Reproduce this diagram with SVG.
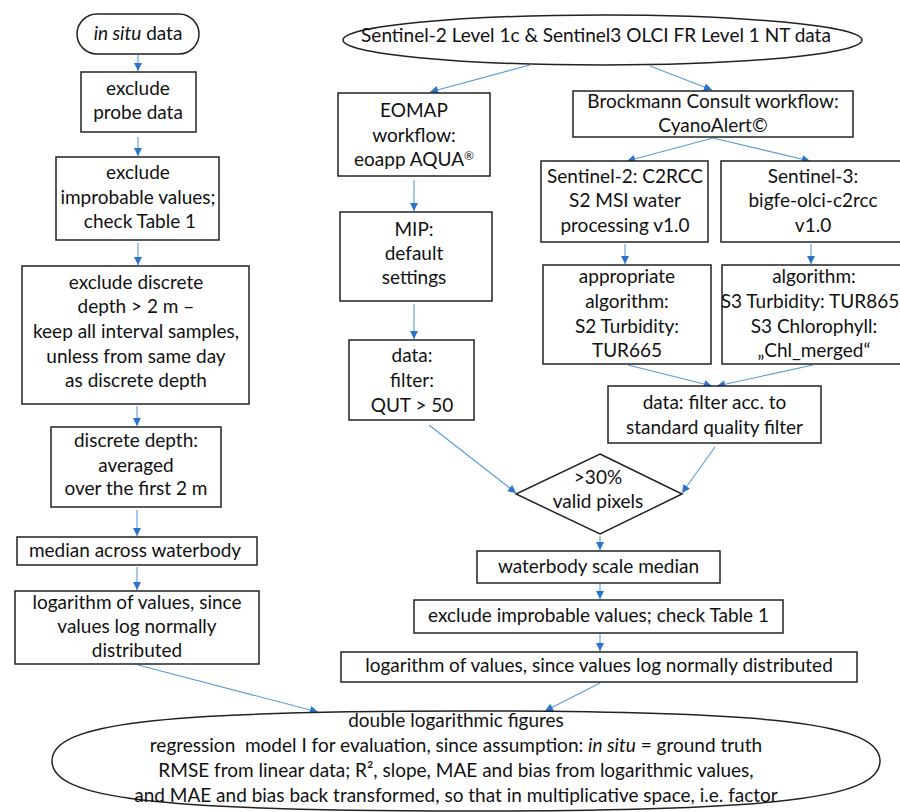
<svg xmlns="http://www.w3.org/2000/svg" width="900" height="812" viewBox="0 0 900 812">
<defs>
<style>
.b{fill:#fff;stroke:#222;stroke-width:1.5}
.t{font-family:Lato,"Liberation Sans",sans-serif;font-size:19px;fill:#111;text-anchor:middle}
.c{fill:none;stroke:#5b9bd5;stroke-width:1.1}
</style>
<marker id="a" viewBox="0 0 10 10" refX="10" refY="5" markerWidth="9" markerHeight="8" markerUnits="userSpaceOnUse" orient="auto">
<path d="M0,0 L10,5 L0,10 z" fill="#2a73c9"/>
</marker>
</defs>
<rect width="900" height="812" fill="#fff"/>

<g id="connectors">
<line class="c" x1="138" y1="55" x2="138" y2="71" marker-end="url(#a)"/>
<line class="c" x1="138" y1="137" x2="138" y2="156" marker-end="url(#a)"/>
<line class="c" x1="138" y1="243" x2="138" y2="265" marker-end="url(#a)"/>
<line class="c" x1="137" y1="406" x2="137" y2="426" marker-end="url(#a)"/>
<line class="c" x1="137" y1="510" x2="137" y2="536" marker-end="url(#a)"/>
<line class="c" x1="137" y1="567" x2="137" y2="590" marker-end="url(#a)"/>
<line class="c" x1="138" y1="665" x2="318" y2="712" marker-end="url(#a)"/>
<line class="c" x1="530" y1="65" x2="430" y2="92" marker-end="url(#a)"/>
<line class="c" x1="650" y1="66" x2="712" y2="90" marker-end="url(#a)"/>
<line class="c" x1="713" y1="138" x2="627" y2="161" marker-end="url(#a)"/>
<line class="c" x1="713" y1="138" x2="810" y2="161" marker-end="url(#a)"/>
<line class="c" x1="414" y1="180" x2="414" y2="211" marker-end="url(#a)"/>
<line class="c" x1="414" y1="304" x2="414" y2="339" marker-end="url(#a)"/>
<line class="c" x1="625" y1="244" x2="625" y2="264" marker-end="url(#a)"/>
<line class="c" x1="811" y1="244" x2="811" y2="264" marker-end="url(#a)"/>
<line class="c" x1="628" y1="365" x2="712" y2="386" marker-end="url(#a)"/>
<line class="c" x1="813" y1="365" x2="717" y2="386" marker-end="url(#a)"/>
<line class="c" x1="429" y1="425" x2="516" y2="493" marker-end="url(#a)"/>
<line class="c" x1="715" y1="447" x2="682" y2="493" marker-end="url(#a)"/>
<line class="c" x1="600" y1="536" x2="600" y2="550" marker-end="url(#a)"/>
<line class="c" x1="600" y1="584" x2="600" y2="599" marker-end="url(#a)"/>
<line class="c" x1="600" y1="634" x2="600" y2="651" marker-end="url(#a)"/>
<line class="c" x1="600" y1="683" x2="545" y2="711" marker-end="url(#a)"/>
</g>

<g id="insitu">
<rect class="b" x="77" y="14" width="122" height="40" rx="20"/>
<text class="t" x="138" y="40"><tspan font-style="italic">in situ</tspan> data</text>
</g>
<g id="probe">
<rect class="b" x="81" y="72" width="115" height="60"/>
<text class="t" x="138" y="95">exclude</text>
<text class="t" x="138" y="119">probe data</text>
</g>
<g id="improbable-left">
<rect class="b" x="56" y="157" width="163" height="83"/>
<text class="t" x="138" y="179">exclude</text>
<text class="t" x="138" y="204">improbable values;</text>
<text class="t" x="140" y="228">check Table 1</text>
</g>
<g id="discrete">
<rect class="b" x="22" y="266" width="227" height="138"/>
<text class="t" x="136" y="289">exclude discrete</text>
<text class="t" x="136" y="313">depth &gt; 2 m –</text>
<text class="t" x="136" y="338">keep all interval samples,</text>
<text class="t" x="136" y="363">unless from same day</text>
<text class="t" x="136" y="387">as discrete depth</text>
</g>
<g id="averaged">
<rect class="b" x="51" y="427" width="170" height="80"/>
<text class="t" x="136" y="447">discrete depth:</text>
<text class="t" x="136" y="472">averaged</text>
<text class="t" x="136" y="495">over the first 2 m</text>
</g>
<g id="median-left">
<rect class="b" x="17" y="537" width="240" height="28"/>
<text class="t" x="135" y="557">median across waterbody</text>
</g>
<g id="log-left">
<rect class="b" x="15" y="591" width="244" height="73"/>
<text class="t" x="137" y="609">logarithm of values, since</text>
<text class="t" x="137" y="633">values log normally</text>
<text class="t" x="137" y="657">distributed</text>
</g>

<g id="sentinel-data">
<ellipse class="b" cx="602.5" cy="40" rx="259.5" ry="25"/>
<text class="t" x="596" y="42" font-size="18.2">Sentinel-2 Level 1c &amp; Sentinel3 OLCI FR Level 1 NT data</text>
</g>
<g id="eomap">
<rect class="b" x="338" y="93" width="152" height="83"/>
<text class="t" x="414" y="117">EOMAP</text>
<text class="t" x="414" y="142">workflow:</text>
<text class="t" x="414" y="166">eoapp AQUA<tspan font-size="12" dy="-6">®</tspan></text>
</g>
<g id="mip">
<rect class="b" x="340" y="212" width="152" height="89"/>
<text class="t" x="414" y="236">MIP:</text>
<text class="t" x="414" y="260">default</text>
<text class="t" x="414" y="284">settings</text>
</g>
<g id="qut">
<rect class="b" x="349" y="340" width="125" height="80"/>
<text class="t" x="412" y="362">data:</text>
<text class="t" x="412" y="387">filter:</text>
<text class="t" x="412" y="412">QUT &gt; 50</text>
</g>
<g id="brockmann">
<rect class="b" x="573" y="91" width="280" height="46"/>
<text class="t" x="713" y="108">Brockmann Consult workflow:</text>
<text class="t" x="713" y="132">CyanoAlert©</text>
</g>
<g id="s2-c2rcc">
<rect class="b" x="541" y="161" width="167" height="81"/>
<text class="t" x="625" y="183">Sentinel-2: C2RCC</text>
<text class="t" x="625" y="207">S2 MSI water</text>
<text class="t" x="625" y="232">processing v1.0</text>
</g>
<g id="s3-c2rcc">
<rect class="b" x="721" y="161" width="184" height="81"/>
<text class="t" x="813" y="183">Sentinel-3:</text>
<text class="t" x="813" y="207">bigfe-olci-c2rcc</text>
<text class="t" x="813" y="232">v1.0</text>
</g>
<g id="s2-algorithm">
<rect class="b" x="543" y="265" width="168" height="99"/>
<text class="t" x="627" y="283">appropriate</text>
<text class="t" x="627" y="308">algorithm:</text>
<text class="t" x="627" y="333">S2 Turbidity:</text>
<text class="t" x="627" y="357">TUR665</text>
</g>
<g id="s3-algorithm">
<rect class="b" x="722" y="265" width="184" height="99"/>
<text class="t" x="814" y="283">algorithm:</text>
<text class="t" x="810" y="308" font-size="18.4">S3 Turbidity: TUR865</text>
<text class="t" x="814" y="333">S3 Chlorophyll:</text>
<text class="t" x="814" y="357">„Chl_merged“</text>
</g>
<g id="quality-filter">
<rect class="b" x="608" y="386" width="213" height="57"/>
<text class="t" x="714.5" y="409">data: filter acc. to</text>
<text class="t" x="714.5" y="434">standard quality filter</text>
</g>
<g id="valid-pixels">
<polygon class="b" points="600,454 682,494 600,534 516,494"/>
<text class="t" x="598" y="484">&gt;30%</text>
<text class="t" x="598" y="508">valid pixels</text>
</g>
<g id="waterbody-median">
<rect class="b" x="477" y="551" width="243" height="32"/>
<text class="t" x="598.5" y="573">waterbody scale median</text>
</g>
<g id="improbable-right">
<rect class="b" x="414" y="600" width="369" height="33"/>
<text class="t" x="598.5" y="622">exclude improbable values; check Table 1</text>
</g>
<g id="log-right">
<rect class="b" x="341" y="652" width="516" height="30"/>
<text class="t" x="599" y="672">logarithm of values, since values log normally distributed</text>
</g>
<g id="evaluation">
<path class="b" d="M52,761 C52,723.5 155.5,711 466,711 C776.5,711 880,723.5 880,761 C880,798.5 776.5,811 466,811 C155.5,811 52,798.5 52,761 Z"/>
<text class="t" x="456" y="727">double logarithmic figures</text>
<text class="t" x="456" y="752">regression&#160; model I for evaluation, since assumption: <tspan font-style="italic">in situ</tspan> = ground truth</text>
<text class="t" x="456" y="777">RMSE from linear data; R², slope, MAE and bias from logarithmic values,</text>
<text class="t" x="456" y="802">and MAE and bias back transformed, so that in multiplicative space, i.e. factor</text>
</g>
</svg>
